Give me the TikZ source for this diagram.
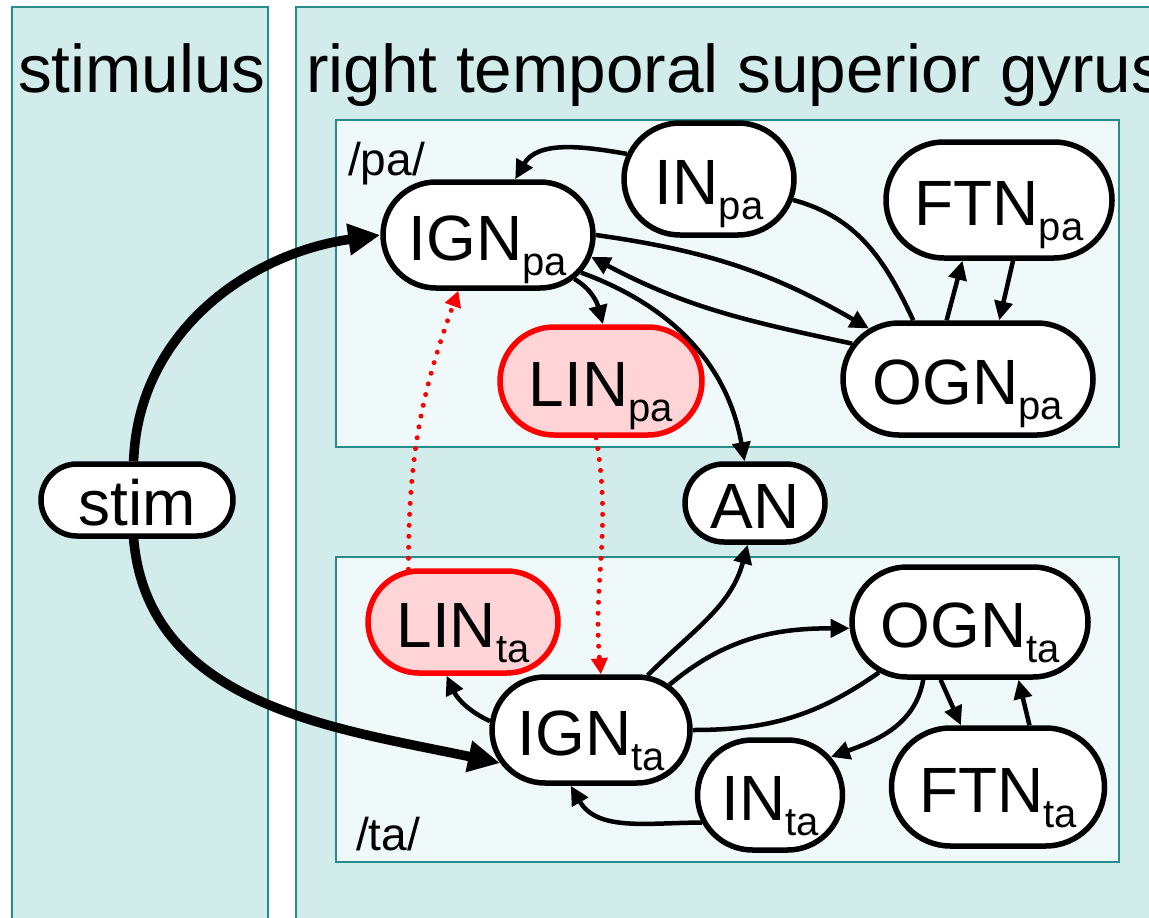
\documentclass[tikz,border=0pt]{standalone}
\usepackage{fontspec}
\setmainfont{Liberation Sans}
\usetikzlibrary{shapes.misc,arrows.meta}
\definecolor{panel}{RGB}{210,236,236}
\definecolor{panelline}{RGB}{40,140,140}
\definecolor{innerfill}{RGB}{240,249,250}
\definecolor{linfill}{RGB}{255,212,214}
\newcommand\lsub[1]{\raisebox{-15pt}{\fontsize{40}{40}\selectfont #1}}
\tikzset{
  unitbox/.style={rounded rectangle,draw,line width=5.5pt,fill=white,inner sep=0pt,
    text height=50pt,text depth=0pt,font=\fontsize{64}{64}\selectfont},
  linbox/.style={unitbox,draw=red,fill=linfill},
  frame/.style={draw=panelline,line width=1.5pt},
  link/.style={line width=4.5pt,-{Triangle[length=19pt,width=18pt]}},
  bareline/.style={line width=4.5pt},
  drive/.style={line width=9.5pt,-{Triangle[length=32pt,width=30pt]}},
  lateral/.style={red,line width=5pt,line cap=round,dash pattern=on 0pt off 11pt,
    -{Triangle[length=16pt,width=16pt]}},
  title/.style={anchor=base west,inner sep=0pt,font=\fontsize{67.5}{67.5}\selectfont},
  tag/.style={anchor=base west,inner sep=0pt,font=\fontsize{46}{46}\selectfont}
}
\begin{document}
\begin{tikzpicture}[x=1pt,y=1pt]
\useasboundingbox (0,0) rectangle (1149,-918);
\clip (0,0) rectangle (1149,-918);
\fill[white] (0,0) rectangle (1149,-918);
\draw[frame,fill=panel] (12,-7) rectangle (268,-940);
\draw[frame,fill=panel] (296,-7) rectangle (1170,-940);
\draw[frame,fill=innerfill] (336,-120) rectangle (1119,-447);
\draw[frame,fill=innerfill] (336,-557) rectangle (1119,-862);
\node[title] (tstim) at (18,-92) {stimulus};
\node[title] (tstg) at (306,-92) {right temporal superior gyrus};
\node[tag] (tpa) at (348,-175) {/pa/};
\node[tag] (tta) at (356,-850) {/ta/};

\node[unitbox,minimum width=192pt,minimum height=72pt] (stim) at (137,-500) {stim};
\node[unitbox,minimum width=210pt,minimum height=106pt] (IGNpa) at (488,-235) {IGN\lsub{pa}};
\node[unitbox,minimum width=170pt,minimum height=112pt] (INpa) at (709,-179) {IN\lsub{pa}};
\node[unitbox,minimum width=226pt,minimum height=116pt] (FTNpa) at (999,-200) {FTN\lsub{pa}};
\node[unitbox,minimum width=250pt,minimum height=112pt] (OGNpa) at (968,-379) {OGN\lsub{pa}};
\node[linbox,minimum width=202pt,minimum height=108pt] (LINpa) at (601,-381) {LIN\lsub{pa}};
\node[unitbox,minimum width=140pt,minimum height=78pt] (AN) at (755,-503) {AN};
\node[linbox,minimum width=190pt,minimum height=102pt] (LINta) at (463,-622) {LIN\lsub{ta}};
\node[unitbox,minimum width=198pt,minimum height=106pt] (IGNta) at (591,-730) {IGN\lsub{ta}};
\node[unitbox,minimum width=145pt,minimum height=110pt] (INta) at (770,-795) {IN\lsub{ta}};
\node[unitbox,minimum width=236pt,minimum height=110pt] (OGNta) at (970,-622) {OGN\lsub{ta}};
\node[unitbox,minimum width=213pt,minimum height=118pt] (FTNta) at (998,-787) {FTN\lsub{ta}};

\draw[drive] (stim.95) to[out=88,in=188] (IGNpa.west);
\draw[drive] (stim.265) to[out=-85,in=168] (IGNta.200);

\draw[link] (INpa.163) to[out=170,in=60] (IGNpa.64);
\draw[bareline] (INpa.-14) to[out=-15,in=115] (OGNpa.133);
\draw[link] (IGNpa.east) to[out=-8,in=150] (OGNpa.153);
\draw[link] (OGNpa.163) to[out=168,in=-28] (IGNpa.-12);
\draw[link] (IGNpa.-27) to[out=-30,in=105] (LINpa.88);
\draw[link] (IGNpa.-22) to[out=-20,in=100] (AN.104);
\draw[link] (OGNpa.110) -- (FTNpa.239);
\draw[link] (FTNpa.283) -- (OGNpa.62);

\draw[lateral] (LINta.136) to[out=90,in=250] (IGNpa.242);
\draw[lateral] (LINpa.265) to[out=-80,in=95] (IGNta.80);

\draw[link] (IGNta.175) to[out=155,in=-65] (LINta.253);
\draw[link] (IGNta.44) to[out=45,in=-105] (AN.260);
\draw[link] (IGNta.30) to[out=40,in=180] (OGNta.183);
\draw[bareline] (IGNta.east) to[out=0,in=215] (OGNta.209);
\draw[link] (OGNta.231) to[out=-100,in=20] (INta.32);
\draw[link] (OGNta.243) -- (FTNta.121);
\draw[link] (FTNta.63) -- (OGNta.310);
\draw[link] (INta.202) to[out=180,in=-60] (IGNta.250);
\end{tikzpicture}
\end{document}
